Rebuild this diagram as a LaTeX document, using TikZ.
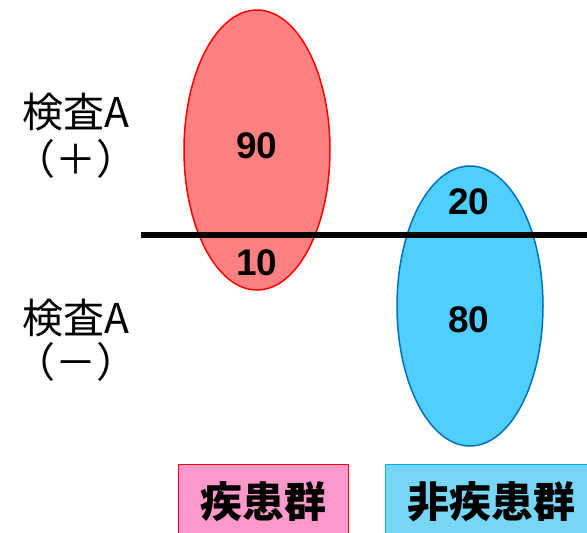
\documentclass[tikz,border=0pt]{standalone}
\usepackage{fontspec}
\setmainfont{Noto Sans CJK JP}
\newfontfamily\digitfont{Liberation Sans}
\usetikzlibrary{shapes.geometric}
\definecolor{redfill}{HTML}{FF8080}
\definecolor{bluefill}{HTML}{4FCFFF}
\definecolor{blueline}{HTML}{0070C0}
\definecolor{pinkfill}{HTML}{FF99CC}
\definecolor{lightblue}{HTML}{77D5F5}
\definecolor{boxblue}{HTML}{00B0F0}
\tikzset{
  grp/.style={ellipse, minimum width=146pt, minimum height=280pt, line width=1.5pt, inner sep=0pt},
  num/.style={font=\fontsize{37}{37}\selectfont\digitfont\bfseries, inner sep=0pt},
  lbl/.style={font=\fontsize{41}{41}\selectfont, inner sep=0pt},
  tag/.style={minimum width=170pt, minimum height=80pt, line width=1.2pt, inner sep=0pt, anchor=north west},
  tagtext/.style={font=\fontsize{42}{42}\selectfont\bfseries, inner sep=0pt}
}
\begin{document}
\begin{tikzpicture}[x=1pt,y=-1pt]
\useasboundingbox (0,0) rectangle (587,533);
\clip (0,0) rectangle (587,533);
\node[grp, draw=red, fill=redfill] (dis) at (257,150) {};
\node[grp, draw=blueline, fill=bluefill] (non) at (470,306) {};
\coordinate (ls) at (141,235);
\coordinate (le) at (590,235);
\draw[line width=6pt] (ls) -- (le);
\node[num] (n90) at (257,146) {90};
\node[num] (n10) at (257,263) {10};
\node[num] (n20) at (469,202) {20};
\node[num] (n80) at (469,320) {80};
\node[lbl] (pa) at (76,112) {検査A};
\node[lbl] (pb) at (76,159) {（＋）};
\node[lbl] (ma) at (76,318) {検査A};
\node[lbl] (mb) at (76,362) {（－）};
\node[tag, draw=red, fill=pinkfill] (tdis) at (178,464) {};
\node[tag, draw=boxblue, fill=lightblue, minimum width=210pt] (tnon) at (385,464) {};
\node[tagtext] at (263,502) {疾患群};
\node[tagtext] at (491,502) {非疾患群};
\end{tikzpicture}
\end{document}
